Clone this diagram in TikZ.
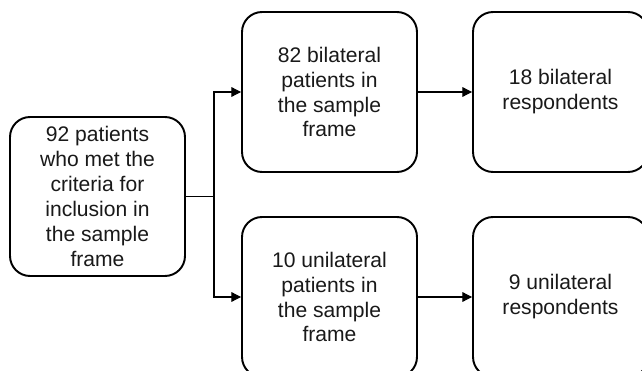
\documentclass[tikz,border=0pt]{standalone}
\usepackage{fontspec}
\setmainfont{Liberation Sans}
\usetikzlibrary{arrows.meta}

\begin{document}
\begin{tikzpicture}[x=0.02cm, y=-0.02cm,
    every node/.style={text=black!90, font=\fontsize{12}{14.2}\selectfont},
    stagebox/.style={rectangle, draw, line width=1.1pt, rounded corners=0.4cm, align=center, minimum width=3.5cm, minimum height=3.2cm},
    flow/.style={line width=0.6pt, -{Triangle[length=5.5pt, width=5.5pt]}}]
    \useasboundingbox (0,0) rectangle (642,371);
    \clip (0,0) rectangle (642,371);

    % Sample frame
    \node[stagebox, minimum height=3.18cm] (frame) at (97.5,196.5) {92 patients\\who met the\\criteria for\\inclusion in\\the sample\\frame};

    % Patients by group
    \node[stagebox] (bil) at (329.5,92) {82 bilateral\\patients in\\the sample\\frame};
    \node[stagebox] (uni) at (329.5,297) {10 unilateral\\patients in\\the sample\\frame};

    % Respondents
    \node[stagebox] (bilresp) at (560.5,92) {18 bilateral\\respondents};
    \node[stagebox] (uniresp) at (560.5,297) {9 unilateral\\respondents};

    \coordinate (split) at (214,196.5);
    \draw[line width=0.6pt] (frame.east) -- (split);
    \draw[flow] (split) |- (bil.west);
    \draw[flow] (split) |- (uni.west);
    \draw[flow] (bil) -- (bilresp);
    \draw[flow] (uni) -- (uniresp);
\end{tikzpicture}
\end{document}
